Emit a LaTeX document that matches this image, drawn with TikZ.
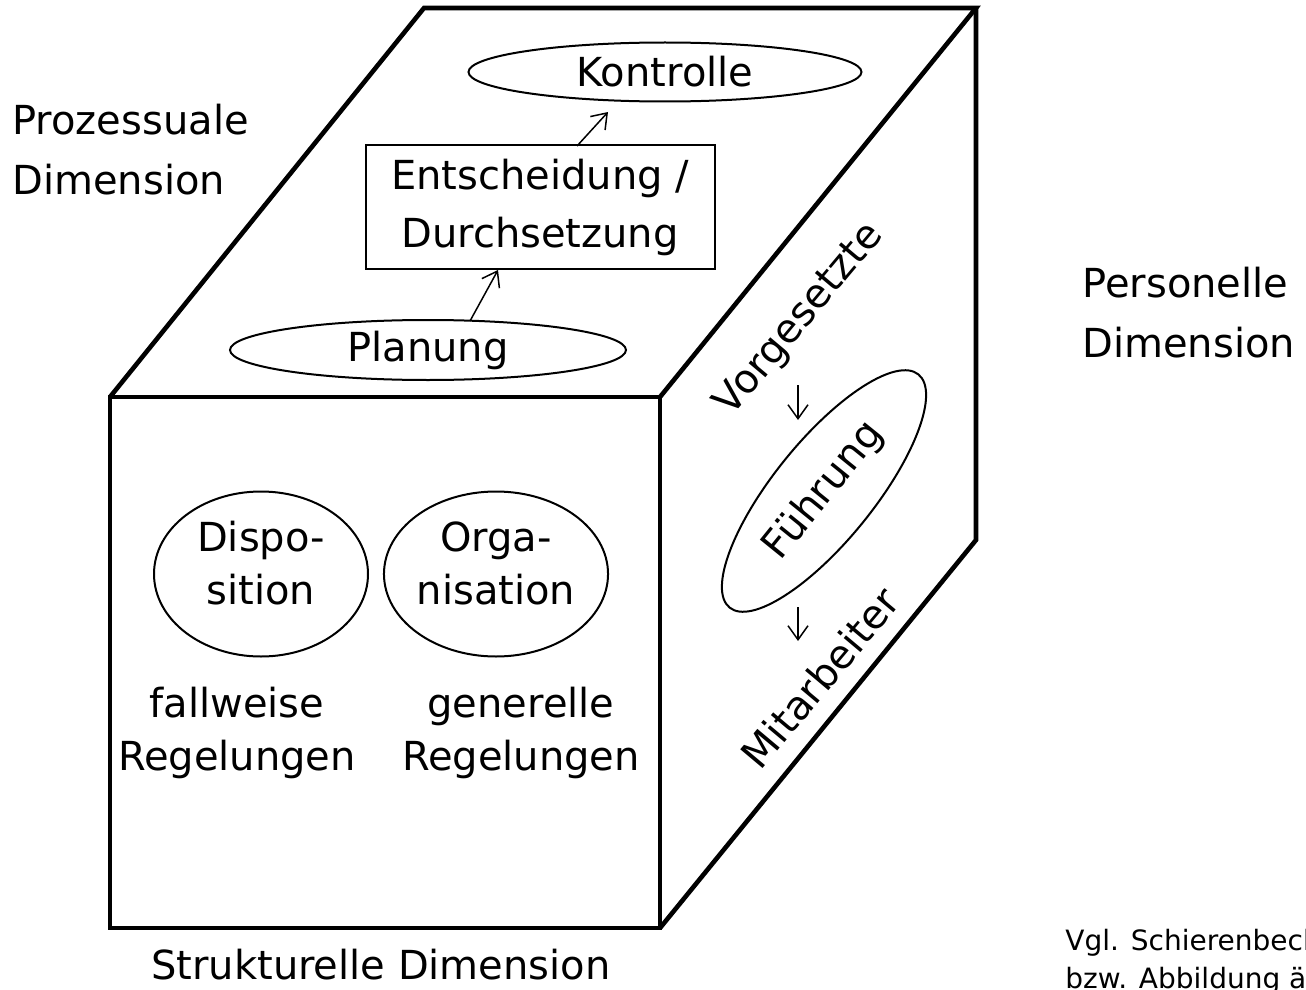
\documentclass[tikz,border=0pt]{standalone}
\usepackage{fontspec}
\setmainfont{DejaVu Sans}
\usetikzlibrary{arrows.meta, calc, shapes.geometric}

\begin{document}
\begin{tikzpicture}[x=0.5pt, y=-0.5pt, >={Straight Barb[length=7pt, width=10pt]},
  every node/.style={font=\fontsize{20}{26.5}\selectfont, inner sep=0pt, align=center},
  cubeedge/.style={line width=2.3pt, line join=miter},
  bubble/.style={draw, ellipse, line width=1pt},
  flow/.style={->, line width=0.75pt},
  dimlabel/.style={font=\fontsize{20}{30}\selectfont, align=left, anchor=west}]
  \useasboundingbox (0,0) rectangle (1306,990);
  \clip (0,0) rectangle (1306,990);
  \coordinate (ftl) at (110,397);
  \coordinate (ftr) at (660,397);
  \coordinate (fbr) at (660,928);
  \coordinate (fbl) at (110,928);
  \coordinate (btl) at (424,8);
  \coordinate (btr) at (976,8);
  \coordinate (bbr) at (976,540);
  \draw[cubeedge] (ftl) -- (ftr) -- (fbr) -- (fbl) -- cycle;
  \draw[cubeedge] (ftl) -- (btl) -- (btr) -- (ftr);
  \draw[cubeedge] (btr) -- (bbr) -- (fbr);

  \node[bubble, minimum width=196.5pt, minimum height=29.5pt] (kontrolle) at (665,72) {Kontrolle};
  \node[draw, line width=1pt, minimum width=174.5pt, minimum height=61.5pt, font=\fontsize{20}{29}\selectfont] (entscheidung) at (540,207) {Entscheidung /\\Durchsetzung};
  \node[bubble, minimum width=198pt, minimum height=30pt] (planung) at (428,350) {Planung};
  \draw[flow] ($(planung.center)+(42,-29)$) -- ($(entscheidung.center)+(-42,63)$);
  \draw[flow] ($(entscheidung.center)+(37,-61)$) -- ($(kontrolle.center)+(-57,40)$);

  \node[rotate=50] (vorgesetzte) at (800,320) {Vorgesetzte};
  \node[bubble, rotate=51, minimum width=150pt, minimum height=50pt] (fuehrung) at (824,491) {Führung};
  \node[rotate=50] (mitarbeiter) at (820,678) {Mitarbeiter};
  \draw[flow] ($(vorgesetzte.center)+(-2,65)$) -- ($(fuehrung.center)+(-26,-71)$);
  \draw[flow] ($(fuehrung.center)+(-26,116)$) -- ($(mitarbeiter.center)+(-22,-37)$);

  \node[bubble, minimum width=107pt, minimum height=82.5pt, text depth=11pt] (disposition) at (261,574) {Dispo-\\sition};
  \node[bubble, minimum width=107pt, minimum height=82.5pt, text depth=11pt] (organisation) at (496,574) {Orga-\\nisation};
  \node (fallweise) at (237,733) {fallweise\\Regelungen};
  \node (generelle) at (521,733) {generelle\\Regelungen};

  \node[dimlabel] (prozessuale) at (12,150) {Prozessuale\\Dimension};
  \node[dimlabel] (personelle) at (1082,313) {Personelle\\Dimension};
  \node (strukturelle) at (381,965) {Strukturelle Dimension};
  \node[font=\fontsize{14}{19}\selectfont, align=left, anchor=west] (quelle) at (1065,962) {Vgl. Schierenbeck\\bzw. Abbildung ähnlich};
\end{tikzpicture}
\end{document}
